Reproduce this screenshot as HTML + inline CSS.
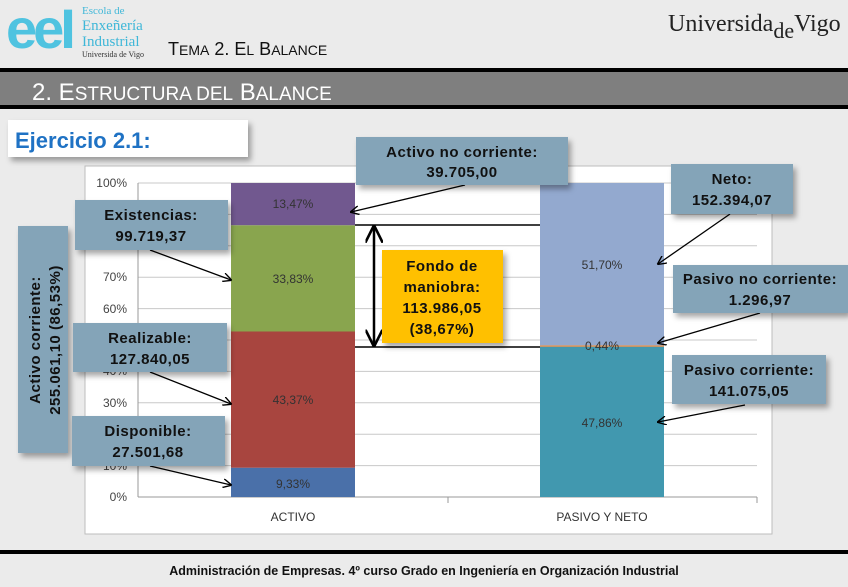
<!DOCTYPE html>
<html><head><meta charset="utf-8"><style>
html,body{margin:0;padding:0;background:#ebebeb;}
svg{display:block;font-family:"Liberation Sans",sans-serif;}
</style></head><body>
<svg width="848" height="587" viewBox="0 0 848 587" xmlns="http://www.w3.org/2000/svg">
<defs>
<marker id="ah" viewBox="0 0 10 10" refX="9" refY="5" markerWidth="7" markerHeight="7" orient="auto-start-reverse"><path d="M0,0 L10,5 L0,10" fill="none" stroke="#000" stroke-width="1.5"/></marker>
<filter id="sh" x="-10%" y="-10%" width="130%" height="140%"><feDropShadow dx="3" dy="4" stdDeviation="3" flood-color="#000" flood-opacity="0.35"/></filter>
</defs>
<rect width="848" height="587" fill="#ebebeb"/>
<!-- header -->
<text x="6" y="48" font-size="56" font-weight="bold" fill="#4fc3e0" font-family="Liberation Sans" letter-spacing="-4">eeI</text>
<text x="82" y="14" font-size="11" fill="#3fb7d8" font-family="Liberation Serif">Escola de</text>
<text x="82" y="30" font-size="15" fill="#3fb7d8" font-family="Liberation Serif">Enxeñería</text>
<text x="82" y="46" font-size="15" fill="#3fb7d8" font-family="Liberation Serif">Industrial</text>
<text x="82" y="57" font-size="8" fill="#333" font-family="Liberation Serif">Universida de Vigo</text>
<text x="168" y="55" font-size="18" fill="#111">T<tspan font-size="14">EMA</tspan> 2. E<tspan font-size="14">L</tspan> B<tspan font-size="14">ALANCE</tspan></text>
<text x="668" y="31" font-size="24" fill="#222" font-family="Liberation Serif">Universida<tspan dy="7" font-size="22">de</tspan><tspan dy="-7">Vigo</tspan></text>
<rect x="0" y="68" width="848" height="4" fill="#000"/>
<rect x="0" y="72" width="848" height="33" fill="#7f7f7f"/>
<rect x="0" y="105" width="848" height="4" fill="#000"/>
<text x="32" y="100" font-size="24" fill="#fff">2. E<tspan font-size="19">STRUCTURA DEL</tspan> B<tspan font-size="19">ALANCE</tspan></text>
<!-- chart frame -->
<rect x="85" y="166" width="687" height="368" fill="#fff" stroke="#bdbdbd"/>
<g stroke="#c8c8c8" stroke-width="1">
<line x1="138" x2="757" y1="183" y2="183"/><line x1="138" x2="757" y1="214.4" y2="214.4"/>
<line x1="138" x2="757" y1="245.8" y2="245.8"/><line x1="138" x2="757" y1="277.2" y2="277.2"/>
<line x1="138" x2="757" y1="308.6" y2="308.6"/><line x1="138" x2="757" y1="340" y2="340"/>
<line x1="138" x2="757" y1="371.4" y2="371.4"/><line x1="138" x2="757" y1="402.8" y2="402.8"/>
<line x1="138" x2="757" y1="434.2" y2="434.2"/><line x1="138" x2="757" y1="465.6" y2="465.6"/>
</g>
<line x1="138" x2="138" y1="183" y2="497" stroke="#999"/>
<line x1="138" x2="757" y1="497" y2="497" stroke="#999"/>
<line x1="448" x2="448" y1="497" y2="503" stroke="#999"/><line x1="757" x2="757" y1="497" y2="503" stroke="#999"/>
<g font-size="12" fill="#444" text-anchor="end">
<text x="127" y="187">100%</text><text x="127" y="218">90%</text><text x="127" y="250">80%</text>
<text x="127" y="281">70%</text><text x="127" y="313">60%</text><text x="127" y="344">50%</text>
<text x="127" y="375">40%</text><text x="127" y="407">30%</text><text x="127" y="438">20%</text>
<text x="127" y="470">10%</text><text x="127" y="501">0%</text></g>
<!-- bars -->
<rect x="231" y="467.7" width="124" height="29.3" fill="#4a70a9"/>
<rect x="231" y="331.5" width="124" height="136.2" fill="#a8453f"/>
<rect x="231" y="225.2" width="124" height="106.3" fill="#89a54e"/>
<rect x="231" y="183" width="124" height="42.2" fill="#71588f"/>
<rect x="540" y="346.7" width="124" height="150.3" fill="#4198af"/>
<rect x="540" y="345.3" width="124" height="1.4" fill="#db843d"/>
<rect x="540" y="183" width="124" height="162.3" fill="#93a9cf"/>
<g font-size="12" fill="#333" text-anchor="middle">
<text x="293" y="488">9,33%</text><text x="293" y="404">43,37%</text><text x="293" y="283">33,83%</text>
<text x="293" y="208">13,47%</text><text x="602" y="427">47,86%</text><text x="602" y="350">0,44%</text>
<text x="602" y="269">51,70%</text>
<text x="293" y="521">ACTIVO</text><text x="602" y="521">PASIVO Y NETO</text></g>
<!-- lines -->
<line x1="355" x2="540" y1="225" y2="225" stroke="#000" stroke-width="1.5"/>
<line x1="355" x2="540" y1="347" y2="347" stroke="#000" stroke-width="1.5"/>
<line x1="374" x2="374" y1="227" y2="345" stroke="#000" stroke-width="2.5" marker-start="url(#ah)" marker-end="url(#ah)"/>
<g stroke="#000" stroke-width="1.3" fill="none" marker-end="url(#ah)">
<line x1="465" y1="185" x2="351" y2="212"/>
<line x1="150" y1="250" x2="231" y2="280"/>
<line x1="150" y1="372" x2="231" y2="404"/>
<line x1="150" y1="466" x2="231" y2="485"/>
<line x1="730" y1="214" x2="658" y2="264"/>
<line x1="760" y1="313" x2="658" y2="343"/>
<line x1="745" y1="405" x2="658" y2="422"/>
</g>
<!-- callouts -->
<g filter="url(#sh)">
<rect x="8" y="120" width="240" height="37" fill="#fff"/>
<rect x="356" y="137" width="212" height="48" fill="#84a4b8"/>
<rect x="75" y="200" width="153" height="50" fill="#84a4b8"/>
<rect x="18" y="226" width="50" height="227" fill="#84a4b8"/>
<rect x="73" y="323" width="154" height="49" fill="#84a4b8"/>
<rect x="72" y="416" width="153" height="50" fill="#84a4b8"/>
<rect x="382" y="250" width="121" height="93" fill="#ffc000"/>
<rect x="671" y="164" width="122" height="50" fill="#84a4b8"/>
<rect x="673" y="265" width="175" height="48" fill="#84a4b8"/>
<rect x="672" y="355" width="154" height="49" fill="#84a4b8"/>
</g>
<text x="15" y="148" font-size="22" font-weight="bold" fill="#1f72c4">Ejercicio 2.1:</text>
<g font-size="15" font-weight="bold" fill="#111" text-anchor="middle" letter-spacing="0.5">
<text x="462" y="157">Activo no corriente:</text><text x="462" y="177">39.705,00</text>
<text x="151" y="220">Existencias:</text><text x="151" y="241">99.719,37</text>
<text x="150" y="343">Realizable:</text><text x="150" y="364">127.840,05</text>
<text x="148" y="436">Disponible:</text><text x="148" y="457">27.501,68</text>
<text x="442" y="271">Fondo de</text><text x="442" y="292">maniobra:</text>
<text x="442" y="313">113.986,05</text><text x="442" y="334">(38,67%)</text>
<text x="732" y="184">Neto:</text><text x="732" y="205">152.394,07</text>
<text x="760" y="284">Pasivo no corriente:</text><text x="760" y="305">1.296,97</text>
<text x="749" y="375">Pasivo corriente:</text><text x="749" y="396">141.075,05</text>
<g transform="translate(43,340) rotate(-90)"><text x="0" y="-3">Activo corriente:</text><text x="0" y="17">255.061,10 (86,53%)</text></g>
</g>
<!-- footer -->
<rect x="0" y="550" width="848" height="4" fill="#000"/>
<text x="424" y="575" font-size="12.5" font-weight="bold" fill="#111" text-anchor="middle">Administración de Empresas. 4º curso Grado en Ingeniería en Organización Industrial</text>
</svg>
</body></html>
